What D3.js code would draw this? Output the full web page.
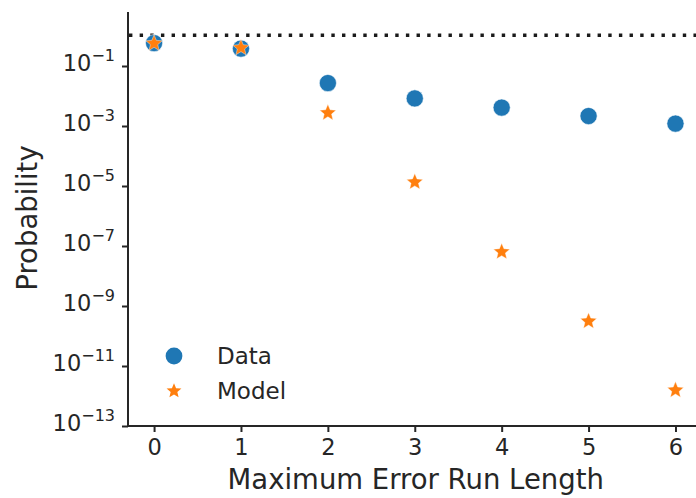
<!DOCTYPE html>
<html>
<head>
<meta charset="utf-8">
<script src="https://cdn.jsdelivr.net/npm/d3@7"></script>
<style>
  body { margin: 0; background: #fff; }
  svg { display: block; font-family: "DejaVu Sans", sans-serif; }
</style>
</head>
<body>
<div id="chart"></div>
<script>
// run lengths on the x axis
const runLengths = [0, 1, 2, 3, 4, 5, 6];
// observed probabilities (blue dots)
const dataProb = [0.58, 0.38, 0.027, 0.0083, 0.0041, 0.00215, 0.0012];
// model probabilities (orange stars)
const modelProb = [0.6, 0.43, 0.0029, 1.44e-5, 6.8e-8, 3.3e-10, 1.66e-12];
// y tick exponents
const yTickExp = [-1, -3, -5, -7, -9, -11, -13];
const xTicks = [0, 1, 2, 3, 4, 5, 6];

const width = 696, height = 498;
const ink = "#262626";
const blue = "#1f77b4", orange = "#ff7f0e";

const svg = d3.select("#chart").append("svg")
    .attr("width", width)
    .attr("height", height);

const left = 128, bottom = 426;

const x = d3.scaleLinear()
    .domain([-0.3, 6.3])
    .range([left, left + 6.6 * 86.9]);

const y = d3.scaleLog()
    .domain([1e-13, Math.pow(10, 0.8)])
    .range([bottom, 12]);

// x axis
const xAxis = svg.append("g")
    .attr("transform", `translate(0,${bottom})`)
    .call(d3.axisBottom(x).tickValues(xTicks).tickFormat(d3.format("d")).tickSize(6).tickPadding(7));
xAxis.select(".domain").attr("stroke", ink).attr("stroke-width", 2)
    .attr("d", `M${left},0H${width + 10}`);
xAxis.selectAll(".tick line").attr("stroke", ink).attr("stroke-width", 2);
xAxis.selectAll(".tick text").attr("fill", ink).style("font-size", "22.5px")
    .attr("font-family", "DejaVu Sans");

// y axis
const yAxis = svg.append("g")
    .attr("transform", `translate(${left},0)`)
    .call(d3.axisLeft(y).tickValues(yTickExp.map(e => Math.pow(10, e))).tickSize(6).tickPadding(7));
yAxis.select(".domain").attr("stroke", ink).attr("stroke-width", 2)
    .attr("d", `M0,${bottom + 1}V12`);
yAxis.selectAll(".tick line").attr("stroke", ink).attr("stroke-width", 2);
yAxis.selectAll(".tick text").each(function(d, i) {
    const t = d3.select(this);
    t.text(null)
        .attr("fill", ink)
        .attr("font-family", "DejaVu Sans")
        .attr("dy", "0.42em");
    t.append("tspan").style("font-size", "22.5px").text("10");
    t.append("tspan").style("font-size", "16px").attr("dy", -10)
        .text("\u2212" + Math.abs(yTickExp[i]));
});

// dotted reference line at probability 1
svg.append("line")
    .attr("x1", left + 1).attr("x2", width)
    .attr("y1", y(1) - 0.8).attr("y2", y(1) - 0.8)
    .attr("stroke", "#1a1a1a")
    .attr("stroke-width", 3.4)
    .attr("stroke-dasharray", "3.4 7.25");

function starPath(R) {
    const r = R * 0.45;
    const pts = [];
    for (let k = 0; k < 10; k++) {
        const a = -Math.PI / 2 + k * Math.PI / 5;
        const rr = k % 2 === 0 ? R : r;
        pts.push([rr * Math.cos(a), rr * Math.sin(a)]);
    }
    return "M" + pts.map(p => p.join(",")).join("L") + "Z";
}

// data points
svg.selectAll(".dot")
    .data(runLengths)
    .enter()
    .append("circle")
    .attr("class", "dot")
    .attr("cx", d => x(d))
    .attr("cy", (d, i) => y(dataProb[i]))
    .attr("r", 8.6)
    .attr("fill", blue)
    .attr("stroke", "#fff")
    .attr("stroke-width", 0.6);

// model points
svg.selectAll(".star")
    .data(runLengths)
    .enter()
    .append("path")
    .attr("class", "star")
    .attr("d", starPath(8.6))
    .attr("transform", (d, i) => `translate(${x(d)},${y(modelProb[i]) + 0.8})`)
    .attr("fill", orange)
    .attr("stroke", "#fff")
    .attr("stroke-width", 0.4);

// legend
const legend = svg.append("g");
legend.append("circle")
    .attr("cx", 174).attr("cy", 356).attr("r", 8.4)
    .attr("fill", blue);
legend.append("path")
    .attr("d", starPath(7.8))
    .attr("transform", "translate(174,391)")
    .attr("fill", orange);
legend.append("text")
    .attr("x", 217).attr("y", 364)
    .attr("fill", ink).style("font-size", "23px")
    .text("Data");
legend.append("text")
    .attr("x", 217).attr("y", 399)
    .attr("fill", ink).style("font-size", "23px")
    .text("Model");

// axis titles
svg.append("text")
    .attr("x", (x(0) + x(6)) / 2 + 1)
    .attr("y", 489)
    .attr("text-anchor", "middle")
    .attr("fill", ink)
    .style("font-size", "27.5px")
    .text("Maximum Error Run Length");

svg.append("text")
    .attr("transform", `translate(37,218) rotate(-90)`)
    .attr("text-anchor", "middle")
    .attr("fill", ink)
    .style("font-size", "27.5px")
    .text("Probability");
</script>
</body>
</html>
